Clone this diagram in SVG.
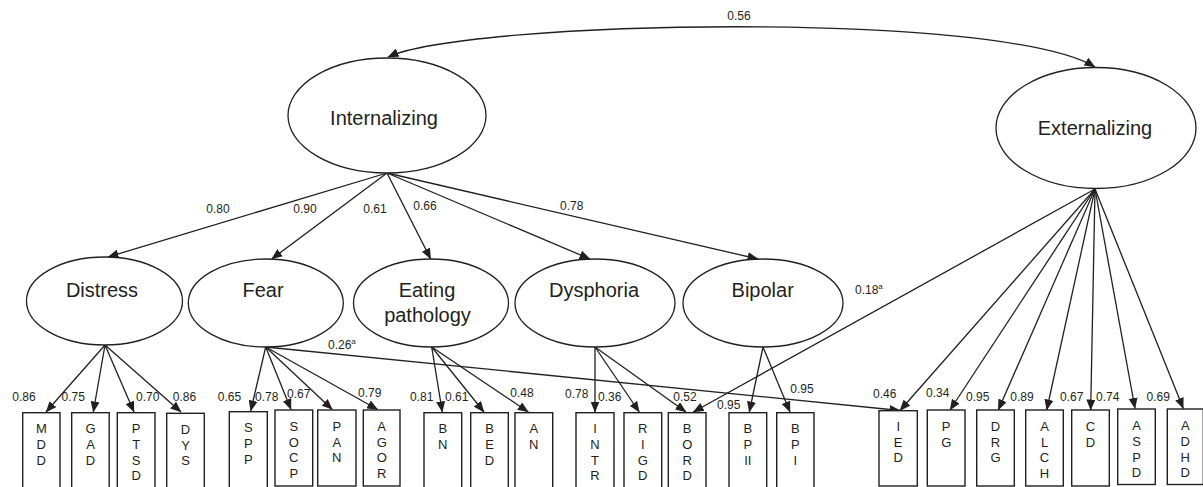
<svg xmlns="http://www.w3.org/2000/svg" width="1203" height="487" viewBox="0 0 1203 487">
<style>
.bg{fill:#fff}
.ell{fill:#fff;stroke:#231f20;stroke-width:1.3}
.box{fill:#fff;stroke:#231f20;stroke-width:1.4}
.ln{fill:none;stroke:#231f20;stroke-width:1.3}
.nl{font-family:"Liberation Sans",Arial,sans-serif;font-size:20px;fill:#231f20;text-anchor:middle}
.v{font-family:"Liberation Sans",Arial,sans-serif;font-size:12px;fill:#231f20;text-anchor:middle}
.vs{font-family:"Liberation Sans",Arial,sans-serif;font-size:12px;fill:#231f20}
.sup{font-size:8px}
.bl{font-family:"Liberation Sans",Arial,sans-serif;font-size:13px;fill:#231f20;text-anchor:middle}
</style>
<defs>
<marker id="ah" markerUnits="userSpaceOnUse" markerWidth="11" markerHeight="9" refX="10.5" refY="4.5" orient="auto-start-reverse" viewBox="0 0 11 9">
<path d="M0,0 L11,4.5 L0,9 z" fill="#231f20"/>
</marker>
</defs>
<rect class="bg" x="0" y="0" width="1203" height="487"/>

<g id="connectors">
<path class="ln" d="M388,57 C470,20 1000,10 1095,67" marker-start="url(#ah)" marker-end="url(#ah)"/>
<line class="ln" x1="387" y1="173" x2="108" y2="257" marker-end="url(#ah)"/>
<line class="ln" x1="387" y1="173" x2="271.7" y2="259" marker-end="url(#ah)"/>
<line class="ln" x1="387" y1="173" x2="430.7" y2="259" marker-end="url(#ah)"/>
<line class="ln" x1="387" y1="173" x2="590" y2="259" marker-end="url(#ah)"/>
<line class="ln" x1="387" y1="173" x2="758" y2="259" marker-end="url(#ah)"/>
<line class="ln" x1="105" y1="345" x2="46" y2="412" marker-end="url(#ah)"/>
<line class="ln" x1="105" y1="345" x2="93.3" y2="412" marker-end="url(#ah)"/>
<line class="ln" x1="105" y1="345" x2="134" y2="412" marker-end="url(#ah)"/>
<line class="ln" x1="105" y1="345" x2="181" y2="412" marker-end="url(#ah)"/>
<line class="ln" x1="265.7" y1="347" x2="250.7" y2="411" marker-end="url(#ah)"/>
<line class="ln" x1="265.7" y1="347" x2="291" y2="409.5" marker-end="url(#ah)"/>
<line class="ln" x1="265.7" y1="347" x2="332.3" y2="409.5" marker-end="url(#ah)"/>
<line class="ln" x1="265.7" y1="347" x2="377.7" y2="409.5" marker-end="url(#ah)"/>
<line class="ln" x1="265.7" y1="347" x2="900" y2="410.5" marker-end="url(#ah)"/>
<line class="ln" x1="431.7" y1="347" x2="442.3" y2="412" marker-end="url(#ah)"/>
<line class="ln" x1="431.7" y1="347" x2="484" y2="412" marker-end="url(#ah)"/>
<line class="ln" x1="431.7" y1="347" x2="528.3" y2="412" marker-end="url(#ah)"/>
<line class="ln" x1="595" y1="347" x2="595" y2="412" marker-end="url(#ah)"/>
<line class="ln" x1="595" y1="347" x2="639.3" y2="412" marker-end="url(#ah)"/>
<line class="ln" x1="595" y1="347" x2="686" y2="412" marker-end="url(#ah)"/>
<line class="ln" x1="763" y1="347" x2="749.3" y2="412" marker-end="url(#ah)"/>
<line class="ln" x1="763" y1="347" x2="790" y2="412" marker-end="url(#ah)"/>
<line class="ln" x1="1095" y1="189" x2="693.3" y2="412" marker-end="url(#ah)"/>
<line class="ln" x1="1095" y1="189" x2="900" y2="410.5" marker-end="url(#ah)"/>
<line class="ln" x1="1095" y1="189" x2="950" y2="410" marker-end="url(#ah)"/>
<line class="ln" x1="1095" y1="189" x2="998.3" y2="410" marker-end="url(#ah)"/>
<line class="ln" x1="1095" y1="189" x2="1046.7" y2="410" marker-end="url(#ah)"/>
<line class="ln" x1="1095" y1="189" x2="1090.7" y2="410" marker-end="url(#ah)"/>
<line class="ln" x1="1095" y1="189" x2="1135" y2="408.5" marker-end="url(#ah)"/>
<line class="ln" x1="1095" y1="189" x2="1183.3" y2="408.5" marker-end="url(#ah)"/>
</g>

<g id="labels">
<text class="v" x="739" y="20">0.56</text>
<text class="v" x="218" y="213">0.80</text>
<text class="v" x="305" y="213">0.90</text>
<text class="v" x="375" y="213">0.61</text>
<text class="v" x="425" y="210">0.66</text>
<text class="v" x="571.7" y="210">0.78</text>
<text class="vs" x="855" y="294">0.18<tspan class="sup" dy="-5">a</tspan></text>
<text class="vs" x="328" y="349">0.26<tspan class="sup" dy="-5">a</tspan></text>
<text class="v" x="24" y="401">0.86</text>
<text class="v" x="73.3" y="401">0.75</text>
<text class="v" x="147.7" y="401">0.70</text>
<text class="v" x="184.5" y="401">0.86</text>
<text class="v" x="229.5" y="401">0.65</text>
<text class="v" x="266.7" y="401">0.78</text>
<text class="v" x="298.7" y="398.3">0.67</text>
<text class="v" x="369.7" y="396.7">0.79</text>
<text class="v" x="421.7" y="401">0.81</text>
<text class="v" x="456.7" y="401">0.61</text>
<text class="v" x="522" y="396.7">0.48</text>
<text class="v" x="576.7" y="398.3">0.78</text>
<text class="v" x="609.7" y="401">0.36</text>
<text class="v" x="685" y="401">0.52</text>
<text class="v" x="728.7" y="408.7">0.95</text>
<text class="v" x="802" y="393.3">0.95</text>
<text class="v" x="884.7" y="398.3">0.46</text>
<text class="v" x="937.7" y="397.3">0.34</text>
<text class="v" x="977.7" y="401">0.95</text>
<text class="v" x="1022" y="401">0.89</text>
<text class="v" x="1071.7" y="401">0.67</text>
<text class="v" x="1107.7" y="401">0.74</text>
<text class="v" x="1158.3" y="401">0.69</text>
</g>

<g id="internalizing"><ellipse class="ell" cx="387" cy="115.5" rx="99" ry="57.5"/><text class="nl" x="384" y="125">Internalizing</text></g>
<g id="externalizing"><ellipse class="ell" cx="1096" cy="128" rx="100" ry="60.5"/><text class="nl" x="1095" y="135">Externalizing</text></g>
<g id="distress"><ellipse class="ell" cx="104.5" cy="301" rx="78" ry="44"/><text class="nl" x="102" y="297">Distress</text></g>
<g id="fear"><ellipse class="ell" cx="265.8" cy="303" rx="77.5" ry="44"/><text class="nl" x="263" y="297">Fear</text></g>
<g id="eating"><ellipse class="ell" cx="431" cy="303" rx="77.5" ry="44"/><text class="nl" x="427" y="297">Eating</text><text class="nl" x="427.5" y="322">pathology</text></g>
<g id="dysphoria"><ellipse class="ell" cx="595" cy="303" rx="80" ry="44"/><text class="nl" x="594" y="297">Dysphoria</text></g>
<g id="bipolar"><ellipse class="ell" cx="763" cy="303" rx="80" ry="44"/><text class="nl" x="762.7" y="297">Bipolar</text></g>

<g id="MDD"><rect class="box" x="22.7" y="412.7" width="37.3" height="90"/><text class="bl" x="41.3" y="433.3">M</text><text class="bl" x="41.3" y="449">D</text><text class="bl" x="41.3" y="464.7">D</text></g>
<g id="GAD"><rect class="box" x="71.7" y="412.7" width="37.5" height="90"/><text class="bl" x="90.5" y="433.3">G</text><text class="bl" x="90.5" y="449">A</text><text class="bl" x="90.5" y="464.7">D</text></g>
<g id="PTSD"><rect class="box" x="117.3" y="412.7" width="37.7" height="90"/><text class="bl" x="136.2" y="433.3">P</text><text class="bl" x="136.2" y="449">T</text><text class="bl" x="136.2" y="464.7">S</text><text class="bl" x="136.2" y="480.4">D</text></g>
<g id="DYS"><rect class="box" x="166.7" y="413.3" width="37.6" height="90"/><text class="bl" x="185.5" y="433.8">D</text><text class="bl" x="185.5" y="449.5">Y</text><text class="bl" x="185.5" y="465.2">S</text></g>
<g id="SPP"><rect class="box" x="229.3" y="411.7" width="38" height="90"/><text class="bl" x="248.3" y="432.3">S</text><text class="bl" x="248.3" y="448">P</text><text class="bl" x="248.3" y="463.7">P</text></g>
<g id="SOCP"><rect class="box" x="275" y="410" width="37.7" height="76"/><text class="bl" x="293.8" y="430.7">S</text><text class="bl" x="293.8" y="446.5">O</text><text class="bl" x="293.8" y="462.3">C</text><text class="bl" x="293.8" y="478.1">P</text></g>
<g id="PAN"><rect class="box" x="317.7" y="410" width="38.3" height="76"/><text class="bl" x="336.8" y="430.7">P</text><text class="bl" x="336.8" y="446.5">A</text><text class="bl" x="336.8" y="462.3">N</text></g>
<g id="AGOR"><rect class="box" x="363.3" y="410" width="36.7" height="76"/><text class="bl" x="381.7" y="430.7">A</text><text class="bl" x="381.7" y="446.5">G</text><text class="bl" x="381.7" y="462.3">O</text><text class="bl" x="381.7" y="478.1">R</text></g>
<g id="BN"><rect class="box" x="424" y="412.7" width="37.7" height="90"/><text class="bl" x="442.8" y="433.3">B</text><text class="bl" x="442.8" y="449">N</text></g>
<g id="BED"><rect class="box" x="470.7" y="412.7" width="37.6" height="90"/><text class="bl" x="489.5" y="433.3">B</text><text class="bl" x="489.5" y="449">E</text><text class="bl" x="489.5" y="464.7">D</text></g>
<g id="AN"><rect class="box" x="515" y="412.7" width="37.7" height="90"/><text class="bl" x="533.8" y="433.3">A</text><text class="bl" x="533.8" y="449">N</text></g>
<g id="INTR"><rect class="box" x="576" y="412.7" width="38" height="90"/><text class="bl" x="595" y="433.3">I</text><text class="bl" x="595" y="449">N</text><text class="bl" x="595" y="464.7">T</text><text class="bl" x="595" y="480.4">R</text></g>
<g id="RIGD"><rect class="box" x="624" y="412.7" width="37.7" height="90"/><text class="bl" x="642.8" y="433.3">R</text><text class="bl" x="642.8" y="449">I</text><text class="bl" x="642.8" y="464.7">G</text><text class="bl" x="642.8" y="480.4">D</text></g>
<g id="BORD"><rect class="box" x="668.3" y="412.7" width="37.7" height="90"/><text class="bl" x="687.2" y="433.3">B</text><text class="bl" x="687.2" y="449">O</text><text class="bl" x="687.2" y="464.7">R</text><text class="bl" x="687.2" y="480.4">D</text></g>
<g id="BPII"><rect class="box" x="729" y="412.7" width="37.7" height="90"/><text class="bl" x="747.8" y="433.3">B</text><text class="bl" x="747.8" y="449">P</text><text class="bl" x="747.8" y="464.7">II</text></g>
<g id="BPI"><rect class="box" x="776.7" y="412.7" width="37.3" height="90"/><text class="bl" x="795.3" y="433.3">B</text><text class="bl" x="795.3" y="449">P</text><text class="bl" x="795.3" y="464.7">I</text></g>
<g id="IED"><rect class="box" x="879" y="410.7" width="38.3" height="75.3"/><text class="bl" x="898.2" y="430.7">I</text><text class="bl" x="898.2" y="446.5">E</text><text class="bl" x="898.2" y="462.3">D</text></g>
<g id="PG"><rect class="box" x="927.3" y="410" width="37.7" height="76"/><text class="bl" x="946.2" y="430.7">P</text><text class="bl" x="946.2" y="446.5">G</text></g>
<g id="DRG"><rect class="box" x="976.7" y="410" width="37.6" height="76"/><text class="bl" x="995.5" y="430.7">D</text><text class="bl" x="995.5" y="446.5">R</text><text class="bl" x="995.5" y="462.3">G</text></g>
<g id="ALCH"><rect class="box" x="1025.7" y="410" width="37.6" height="76"/><text class="bl" x="1044.5" y="430.7">A</text><text class="bl" x="1044.5" y="446.5">L</text><text class="bl" x="1044.5" y="462.3">C</text><text class="bl" x="1044.5" y="478.1">H</text></g>
<g id="CD"><rect class="box" x="1071.7" y="410" width="37.6" height="76"/><text class="bl" x="1090.5" y="430.7">C</text><text class="bl" x="1090.5" y="446.5">D</text></g>
<g id="ASPD"><rect class="box" x="1117.7" y="409" width="37.6" height="75.5"/><text class="bl" x="1136.5" y="430">A</text><text class="bl" x="1136.5" y="445.8">S</text><text class="bl" x="1136.5" y="461.6">P</text><text class="bl" x="1136.5" y="477.4">D</text></g>
<g id="ADHD"><rect class="box" x="1167.3" y="409" width="36" height="75.5"/><text class="bl" x="1185.3" y="430">A</text><text class="bl" x="1185.3" y="445.8">D</text><text class="bl" x="1185.3" y="461.6">H</text><text class="bl" x="1185.3" y="477.4">D</text></g>
</svg>
